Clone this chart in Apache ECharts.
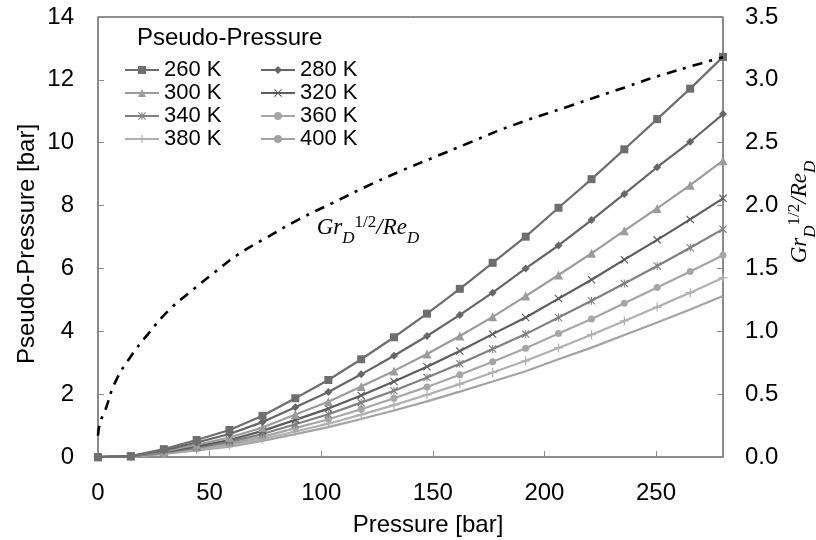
<!DOCTYPE html>
<html><head><meta charset="utf-8">
<script src="https://cdn.jsdelivr.net/npm/echarts@6/dist/echarts.min.js"></script>
<style>html,body{margin:0;padding:0;background:#fff}#c{width:816px;height:540px}</style>
</head><body><div id="c"></div>
<script>
// Pressure [bar] sample points (x)
const pressure = [0,14.7,29.5,44.2,58.9,73.7,88.4,103.2,117.9,132.6,147.4,162.1,176.8,191.6,206.3,221.1,235.8,250.5,265.3,280];
// Pseudo-pressure [bar] per temperature
const pp260 = [0,0.03,0.25,0.54,0.86,1.31,1.87,2.45,3.11,3.81,4.56,5.35,6.18,7.01,7.93,8.84,9.79,10.75,11.72,12.73];
const pp280 = [0,0.03,0.21,0.46,0.73,1.11,1.58,2.07,2.63,3.22,3.85,4.52,5.23,6.00,6.73,7.54,8.37,9.22,10.03,10.91];
const pp300 = [0,0.02,0.18,0.39,0.62,0.94,1.35,1.76,2.24,2.74,3.28,3.85,4.46,5.12,5.79,6.48,7.20,7.91,8.65,9.43];
const pp320 = [0,0.02,0.16,0.34,0.54,0.83,1.18,1.54,1.96,2.40,2.87,3.37,3.91,4.44,5.04,5.64,6.28,6.91,7.56,8.23];
const pp340 = [0,0.02,0.14,0.30,0.48,0.73,1.04,1.36,1.73,2.11,2.53,2.97,3.44,3.91,4.44,4.97,5.52,6.08,6.66,7.25];
const pp360 = [0,0.01,0.12,0.26,0.42,0.64,0.92,1.20,1.52,1.87,2.23,2.62,3.03,3.46,3.93,4.39,4.89,5.39,5.90,6.42];
const pp380 = [0,0.01,0.11,0.23,0.37,0.57,0.81,1.06,1.35,1.65,1.98,2.32,2.69,3.06,3.47,3.89,4.33,4.77,5.23,5.70];
const pp400 = [0,0.01,0.10,0.21,0.33,0.51,0.73,0.95,1.21,1.48,1.77,2.08,2.40,2.73,3.11,3.48,3.88,4.28,4.69,5.12];
const seriesNames = ['260 K','280 K','300 K','320 K','340 K','360 K','380 K','400 K'];
// Gr_D^{1/2}/Re_D (right axis)
const grPressure = [0,1,3,7.6,14.3,22.5,31.3,41.1,52.3,62.7,75,90,105,120,135,150,165,186,211,236,251,270,280];
const grValue = [0.17,0.28,0.36,0.59,0.79,0.98,1.16,1.31,1.47,1.61,1.74,1.89,2.02,2.15,2.27,2.38,2.49,2.64,2.79,2.94,3.03,3.13,3.18];
// Axis ticks
const leftTicks = {min:0, max:14, step:2};
const rightTicks = {min:0, max:3.5, step:0.5};
const xTicks = {min:0, max:280, step:50};

const allData = [pp260,pp280,pp300,pp320,pp340,pp360,pp380,pp400];
const colors = ['#6e6e6e','#666666','#9c9c9c','#5c5c5c','#808080','#a6a6a6','#b0b0b0','#a3a3a3'];
const symbols = ['rect','diamond','triangle',
  'path://M1,0L5,4L9,0L10,1L6,5L10,9L9,10L5,6L1,10L0,9L4,5L0,1Z',
  'path://M1,0L5,4L9,0L10,1L6,5L10,9L9,10L5,6L1,10L0,9L4,5L0,1Z M4.4,0H5.6V10H4.4Z',
  'circle',
  'path://M4.3,0H5.7V4.3H10V5.7H5.7V10H4.3V5.7H0V4.3H4.3Z',
  'none'];
const sizes = [8,8,9,8,8,7,9,0];

const sans = 'Liberation Sans, Arial, sans-serif';
const serif = 'Liberation Serif, Times New Roman, serif';

const series = allData.map((d,i)=>({
  name: seriesNames[i], type:'line', xAxisIndex:0, yAxisIndex:0,
  data: d.map((v,j)=>[pressure[j], v]),
  symbol: symbols[i], symbolSize: sizes[i], showSymbol: symbols[i] !== 'none',
  lineStyle:{color:colors[i], width:2.2}, itemStyle:{color:colors[i]},
  z: 3 + (8-i)
}));
series.push({
  name:'Gr', type:'line', yAxisIndex:1, smooth:true, symbol:'none',
  data: grValue.map((v,j)=>[grPressure[j], v]),
  lineStyle:{color:'#000', width:2.6, type:[10,7,3,7]}, z:20
});

const rich = {
  m:{fontFamily:serif, fontStyle:'italic', fontSize:23, lineHeight:22, verticalAlign:'middle'},
  sub:{fontFamily:serif, fontStyle:'italic', fontSize:17, lineHeight:17, padding:[21,0,0,0], verticalAlign:'middle'},
  sup:{fontFamily:serif, fontSize:17, lineHeight:17, padding:[0,0,10,0], verticalAlign:'middle'}
};
const grText = '{m|Gr}{sub|D}{sup|1/2}{m|/Re}{sub|D}';

const axisLineGray = {show:true, lineStyle:{color:'#8a8a8a', width:1.5}};
const chart = echarts.init(document.getElementById('c'), null, {renderer:'canvas'});
chart.setOption({
  animation:false,
  backgroundColor:'#fff',
  grid:{left:98, right:93, top:17, bottom:83, show:true, borderColor:'#222', borderWidth:1},
  xAxis:{type:'value', min:xTicks.min, max:xTicks.max, interval:xTicks.step,
    axisLine:{...axisLineGray, onZero:false}, axisTick:{inside:true, length:6, lineStyle:{color:'#8a8a8a'}},
    axisLabel:{showMaxLabel:false, fontSize:24, fontFamily:sans, color:'#000', margin:24},
    splitLine:{show:false}},
  yAxis:[
    {type:'value', min:leftTicks.min, max:leftTicks.max, interval:leftTicks.step,
      axisLine:axisLineGray, axisTick:{show:true, inside:true, length:6, lineStyle:{color:'#8a8a8a'}},
      axisLabel:{fontSize:24, fontFamily:sans, color:'#000', margin:24},
      splitLine:{show:false}},
    {type:'value', position:'right', min:rightTicks.min, max:rightTicks.max, interval:rightTicks.step,
      axisLine:axisLineGray, axisTick:{show:true, inside:true, length:6, lineStyle:{color:'#8a8a8a'}},
      axisLabel:{fontSize:24, fontFamily:sans, color:'#000', margin:22, formatter:v=>v.toFixed(1)},
      splitLine:{show:false}}
  ],
  legend:[
    {data:[seriesNames[0],seriesNames[2],seriesNames[4],seriesNames[6]], orient:'vertical', left:119, top:54,
      itemWidth:34, itemHeight:10, itemGap:1, textStyle:{fontSize:22, lineHeight:22, fontFamily:sans, color:'#000'}},
    {data:[seriesNames[1],seriesNames[3],seriesNames[5],seriesNames[7]], orient:'vertical', left:255, top:54,
      itemWidth:34, itemHeight:10, itemGap:1, textStyle:{fontSize:22, lineHeight:22, fontFamily:sans, color:'#000'}}
  ],
  graphic:[
    {type:'text', left:137, top:26, style:{text:'Pseudo-Pressure', font:'24px '+sans, fill:'#000'}},
    {type:'text', x:428, y:525, style:{text:'Pressure [bar]', font:'24px '+sans, fill:'#000', textAlign:'center', textVerticalAlign:'middle'}},
    {type:'text', x:27, y:244, rotation:Math.PI/2, style:{text:'Pseudo-Pressure [bar]', font:'24px '+sans, fill:'#000', textAlign:'center', textVerticalAlign:'middle'}},
    {type:'text', x:800, y:212, rotation:Math.PI/2, style:{text:grText, rich:rich, fill:'#000', align:'center', verticalAlign:'middle'}},
    {type:'text', x:368, y:228, style:{text:grText, rich:rich, fill:'#000', align:'center', verticalAlign:'middle'}}
  ],
  series: series
});
</script></body></html>
